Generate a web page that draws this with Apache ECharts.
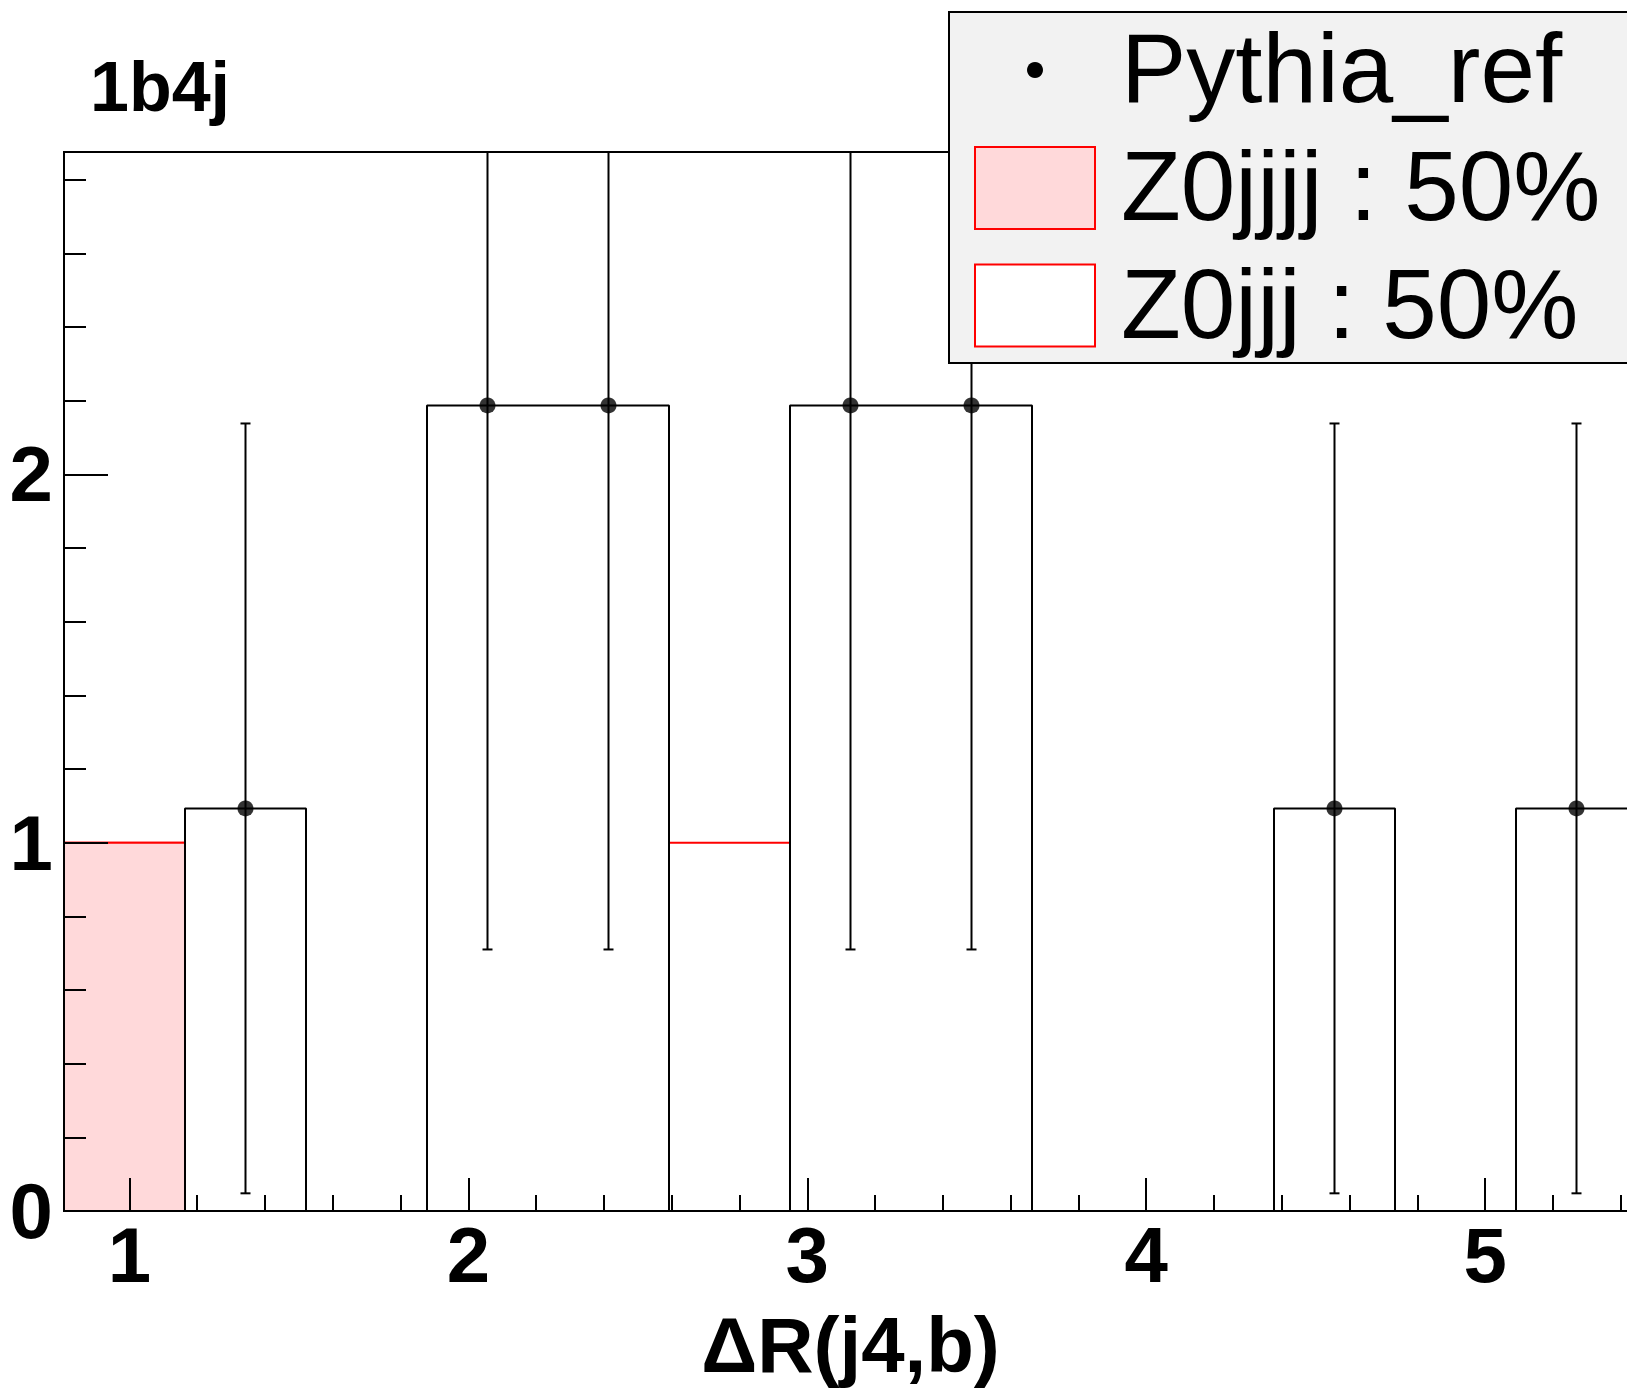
<!DOCTYPE html>
<html>
<head>
<meta charset="utf-8">
<script src="https://cdn.jsdelivr.net/npm/echarts@6/dist/echarts.min.js"></script>
<style>
  html, body { margin: 0; padding: 0; background: #ffffff; }
  #chart { width: 1627px; height: 1396px; }
</style>
</head>
<body>
<div id="chart"></div>
<script>
// ---- data ----
const binEdges = [0.807, 1.164, 1.521, 1.878, 2.235, 2.592, 2.949, 3.306, 3.663, 4.020, 4.377, 4.734, 5.091, 5.448];
const pythiaRef    = [0, 1.093, 0, 2.187, 2.187, 0, 2.187, 2.187, 0, 0, 1.093, 0, 1.093];
const pythiaRefErr = [0, 1.045, 0, 1.477, 1.477, 0, 1.477, 1.477, 0, 0, 1.045, 0, 1.045];
const z0jjjj = [1, 0, 0, 0, 0, 0, 0, 0, 0, 0, 0, 0, 0];
const z0jjj  = [0, 0, 0, 0, 0, 1, 0, 0, 0, 0, 0, 0, 0];
const xMajorTicks = [1, 2, 3, 4, 5];
const xMinorTicks = [1.2, 1.4, 1.6, 1.8, 2.2, 2.4, 2.6, 2.8, 3.2, 3.4, 3.6, 3.8, 4.2, 4.4, 4.6, 4.8, 5.2, 5.4];
const yMajorTicks = [0, 1, 2];
const yMinorTicks = [0.2, 0.4, 0.6, 0.8, 1.2, 1.4, 1.6, 1.8, 2.2, 2.4, 2.6, 2.8];
const xMin = 0.807, xMax = 5.448, yMin = 0, yMax = 2.875;
const titleText = '1b4j';
const xTitle = '\u0394R(j4,b)';
const legendLabels = ['Pythia_ref', 'Z0jjjj : 50%', 'Z0jjj : 50%'];

// ---- derived ----
const FONT = '"Liberation Sans", Arial, Helvetica, sans-serif';
const PINK = '#ffd9da';
const RED = '#ff0000';
function stepData(vals) {
  const d = vals.map((v, i) => [binEdges[i], v]);
  d.push([binEdges[vals.length], vals[vals.length - 1]]);
  return d;
}
const stackTotal = z0jjjj.map((v, i) => v + z0jjj[i]);
const refPoints = [];
pythiaRef.forEach((v, i) => {
  if (v > 0) refPoints.push([(binEdges[i] + binEdges[i + 1]) / 2, v, pythiaRefErr[i]]);
});

const chart = echarts.init(document.getElementById('chart'), null, { renderer: 'svg' });

const commonX = { type: 'value', min: xMin, max: xMax, position: 'bottom', splitLine: { show: false }, z: 10 };
const commonY = { type: 'value', min: yMin, max: yMax, position: 'left', splitLine: { show: false }, z: 10 };

const option = {
  animation: false,
  backgroundColor: '#ffffff',
  grid: {
    left: 64, top: 152, right: -10, bottom: 185,
    show: true, borderColor: '#000', borderWidth: 2, backgroundColor: 'transparent',
    containLabel: false, outerBoundsMode: 'none'
  },
  xAxis: [
    Object.assign({}, commonX, {
      name: xTitle, nameLocation: 'middle', nameGap: 95,
      nameTextStyle: { fontFamily: FONT, fontWeight: 'bold', fontSize: 78, color: '#000' },
      axisLine: { show: true, onZero: false, lineStyle: { color: '#000', width: 2 } },
      axisTick: { show: true, inside: true, length: 33, customValues: xMajorTicks, lineStyle: { color: '#000', width: 2 } },
      axisLabel: { show: true, customValues: xMajorTicks, margin: 5, fontFamily: FONT, fontWeight: 'bold', fontSize: 78, color: '#000' }
    }),
    Object.assign({}, commonX, {
      axisLine: { show: false },
      axisTick: { show: true, inside: true, length: 16, customValues: xMinorTicks, lineStyle: { color: '#000', width: 2 } },
      axisLabel: { show: false }
    })
  ],
  yAxis: [
    Object.assign({}, commonY, {
      axisLine: { show: true, onZero: false, lineStyle: { color: '#000', width: 2 } },
      axisTick: { show: true, inside: true, length: 44, customValues: yMajorTicks, lineStyle: { color: '#000', width: 2 } },
      axisLabel: { show: true, customValues: yMajorTicks, margin: 11, fontFamily: FONT, fontWeight: 'bold', fontSize: 78, color: '#000' }
    }),
    Object.assign({}, commonY, {
      axisLine: { show: false },
      axisTick: { show: true, inside: true, length: 22, customValues: yMinorTicks, lineStyle: { color: '#000', width: 2 } },
      axisLabel: { show: false }
    })
  ],
  series: [
    { name: 'Z0jjj', type: 'line', step: 'end', data: stepData(stackTotal), showSymbol: false, symbol: 'none',
      lineStyle: { color: RED, width: 2 }, areaStyle: { color: '#ffffff', opacity: 1 }, z: 2 },
    { name: 'Z0jjjj', type: 'line', step: 'end', data: stepData(z0jjjj), showSymbol: false, symbol: 'none',
      lineStyle: { color: RED, width: 2 }, areaStyle: { color: PINK, opacity: 1 }, z: 3 },
    { name: 'Pythia_ref hist', type: 'line', step: 'end', data: stepData(pythiaRef), showSymbol: false, symbol: 'none',
      lineStyle: { color: '#000', width: 2 }, z: 4 },
    { name: 'Pythia_ref err', type: 'custom', data: refPoints, z: 5, clip: true,
      renderItem: function (params, api) {
        const x = api.value(0), y = api.value(1), e = api.value(2);
        const hiVal = Math.min(y + e, yMax), loVal = Math.max(y - e, yMin);
        const lo = api.coord([x, loVal]);
        const hi = api.coord([x, hiVal]);
        const st = { stroke: '#000', lineWidth: 2, fill: null };
        const children = [{ type: 'line', shape: { x1: lo[0], y1: lo[1], x2: hi[0], y2: hi[1] }, style: st }];
        if (y - e >= yMin) children.push({ type: 'line', shape: { x1: lo[0] - 5, y1: lo[1], x2: lo[0] + 5, y2: lo[1] }, style: st });
        if (y + e <= yMax) children.push({ type: 'line', shape: { x1: hi[0] - 5, y1: hi[1], x2: hi[0] + 5, y2: hi[1] }, style: st });
        return { type: 'group', children: children };
      }
    },
    { name: 'Pythia_ref', type: 'scatter', data: refPoints.map(p => [p[0], p[1]]), symbol: 'circle', symbolSize: 16,
      itemStyle: { color: '#000' }, z: 6 }
  ],
  graphic: [
    { type: 'text', left: 90, top: 52, z: 100,
      style: { text: titleText, font: 'bold 70px ' + FONT, fill: '#000' } },
    { type: 'rect', z: 100, shape: { x: 949, y: 12, width: 720, height: 351 }, style: { fill: '#f2f2f2', stroke: '#000', lineWidth: 2 } },
    { type: 'circle', z: 101, shape: { cx: 1035, cy: 70, r: 8 }, style: { fill: '#000' } },
    { type: 'rect', z: 101, shape: { x: 975, y: 147, width: 120, height: 82 }, style: { fill: PINK, stroke: RED, lineWidth: 2 } },
    { type: 'rect', z: 101, shape: { x: 975, y: 264.5, width: 120, height: 82 }, style: { fill: '#ffffff', stroke: RED, lineWidth: 2 } },
    { type: 'text', z: 101, x: 1121, y: 68, style: { text: legendLabels[0], font: '98px ' + FONT, fill: '#000', verticalAlign: 'middle', align: 'left' } },
    { type: 'text', z: 101, x: 1121, y: 186, style: { text: legendLabels[1], font: '98px ' + FONT, fill: '#000', verticalAlign: 'middle', align: 'left' } },
    { type: 'text', z: 101, x: 1121, y: 303.5, style: { text: legendLabels[2], font: '98px ' + FONT, fill: '#000', verticalAlign: 'middle', align: 'left' } }
  ]
};
chart.setOption(option);
</script>
</body>
</html>
